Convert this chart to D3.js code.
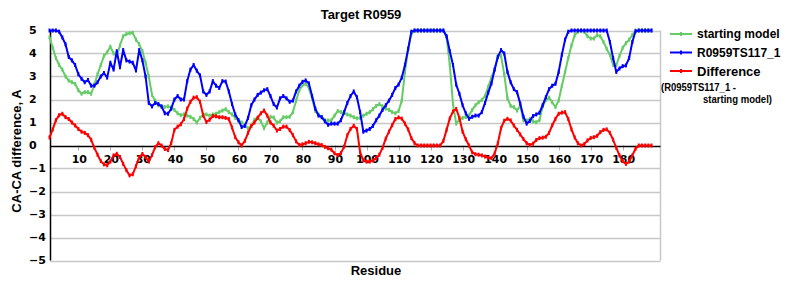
<!DOCTYPE html>
<html>
<head>
<meta charset="utf-8">
<script src="https://cdn.jsdelivr.net/npm/d3@7"></script>
<style>
  body { margin: 0; background: #fff; }
  svg { display: block; }
  text { font-family: "Liberation Sans", Arial, sans-serif; font-weight: bold; fill: #000; }
  .tick-label { font-family: "DejaVu Sans", Verdana, sans-serif; font-size: 11px; }
</style>
</head>
<body>
<div id="chart"></div>
<script>
// CA-CA difference per residue (A)
const startingModel = [
  4.7, 4.25, 3.8, 3.5, 3.3, 3.0, 2.82, 2.75, 2.68, 2.4,
  2.25, 2.32, 2.32, 2.25, 2.65, 3.1, 3.5, 3.9, 4.05, 4.3,
  4.0, 3.9, 4.35, 4.75, 4.85, 4.88, 4.9, 4.6, 4.4, 4.1,
  3.6, 3.0, 2.2, 1.95, 1.75, 1.68, 1.68, 1.7, 1.65, 1.55,
  1.4, 1.32, 1.35, 1.3, 1.25, 1.15, 1.0, 1.2, 1.35, 1.35,
  1.3, 1.35, 1.38, 1.45, 1.52, 1.58, 1.45, 1.35, 1.2, 1.09,
  1.0, 0.9, 0.74, 0.85, 1.12, 1.22, 1.05, 0.75, 1.0, 1.25,
  1.22, 1.0, 1.05, 1.23, 1.23, 1.25, 1.45, 1.95, 2.4, 2.62,
  2.68, 2.5, 2.05, 1.5, 1.35, 1.25, 1.1, 1.09, 1.1, 1.3,
  1.5, 1.45, 1.4, 1.35, 1.3, 1.23, 1.18, 1.2, 1.3, 1.38,
  1.45, 1.58, 1.72, 1.8, 1.7, 1.6, 1.55, 1.45, 1.4, 1.5,
  1.95, 3.2, 4.2, 4.85, 5, 5, 5, 5, 5, 5,
  5, 5, 5, 5, 4.7, 3.5, 1.8, 0.95, 1.12, 1.2,
  1.24, 1.3, 1.55, 1.75, 1.88, 1.98, 2.15, 2.55, 2.95, 3.3,
  3.9, 3.9, 3.1, 2.05, 1.72, 1.67, 1.52, 1.74, 1.1, 1.09,
  1.15, 1.05, 1.01, 1.1, 1.7, 1.98, 2.08, 1.88, 1.67, 1.96,
  2.6, 3.2, 3.8, 4.35, 4.8, 4.95, 5, 4.95, 4.75, 4.65,
  4.65, 4.8, 4.75, 4.5, 4.2, 3.95, 3.5, 3.5, 3.9, 4.25,
  4.45, 4.6, 4.8, 5, 5, 5, 5, 5, 5
];

const model = [
  5, 5, 5, 4.95, 4.7, 4.4, 3.85, 3.7, 3.5, 3.1,
  2.9, 2.75, 2.85, 2.6, 2.6, 2.75, 3.0, 3.15, 2.95, 3.6,
  3.3, 4.1, 3.4, 4.15, 3.7, 3.65, 3.6, 3.26, 4.15, 3.7,
  3.0, 1.85, 1.7, 1.85, 1.8, 1.7, 1.4, 1.38, 1.6, 2.0,
  2.15, 2.0, 2.0, 2.8, 3.3, 3.5, 3.25, 3.05, 2.35, 2.2,
  2.35, 2.8, 2.6, 2.5, 2.8, 2.78, 2.35, 1.8, 1.35, 1.1,
  0.8, 0.85, 1.2, 1.75, 2.0, 2.2, 2.3, 2.4, 2.45, 2.15,
  1.8, 1.65, 2.05, 2.15, 2.05, 1.9, 1.95, 2.35, 2.6, 2.77,
  2.83, 2.7, 2.15, 1.6, 1.3, 1.23, 1.05, 0.9, 0.95, 0.95,
  0.95, 1.1, 1.45, 1.85, 2.15, 2.35, 2.1, 1.45, 0.6, 0.65,
  0.72, 0.85, 1.1, 1.3, 1.55, 1.75, 1.95, 2.2, 2.5, 2.65,
  2.95, 3.5, 4.2, 4.95, 5, 5, 5, 5, 5, 5,
  5, 5, 5, 5, 4.75, 4.1, 3.5, 2.65, 2.25, 1.75,
  1.4, 1.16, 1.25, 1.3, 1.3, 1.45, 1.85, 2.3, 2.7, 3.3,
  3.85, 4.15, 4.0, 3.2, 2.75, 2.45, 2.32, 1.82, 1.25, 0.95,
  1.07, 1.28, 1.35, 1.42, 1.75, 2.1, 2.45, 2.6, 2.68, 3.2,
  3.95, 4.6, 4.95, 5, 5, 5, 5, 5, 5, 5,
  5, 5, 5, 5, 5, 4.5, 3.8, 3.2, 3.35, 3.45,
  3.48, 3.8, 4.5, 4.97, 5, 5, 5, 5, 5
];

const difference = [
  0.35, 0.7, 1.1, 1.32, 1.38, 1.23, 1.15, 1.0, 0.87, 0.72,
  0.6, 0.55, 0.45, 0.25, -0.1, -0.4, -0.68, -0.82, -0.86, -0.7,
  -0.43, -0.36, -0.5, -0.8, -1.07, -1.3, -1.25, -0.9, -0.52, -0.37,
  -0.5, -0.7, -0.42, -0.07, 0.1, 0.0, -0.15, -0.2, 0.1, 0.68,
  0.82, 0.92, 1.15, 1.6, 1.9, 2.08, 2.1, 1.9, 1.3, 1.02,
  1.12, 1.28, 1.27, 1.23, 1.23, 1.2, 1.15, 0.78, 0.36, 0.14,
  0.0, 0.2, 0.55, 0.85, 1.0, 1.2, 1.4, 1.52, 1.3, 1.0,
  0.86, 0.65, 0.72, 0.82, 0.82, 0.67, 0.45, 0.18, 0.02, 0.05,
  0.1, 0.16, 0.14, 0.1, 0.05, 0.02, -0.06, -0.12, -0.18, -0.34,
  -0.42, -0.33, -0.05, 0.45, 0.72, 0.86, 0.72, -0.3, -0.65, -0.7,
  -0.7, -0.65, -0.55, -0.4, -0.1, 0.3, 0.6, 0.88, 1.15, 1.22,
  1.17, 0.95, 0.7, 0.32, 0.1, 0, 0, 0, 0, 0,
  0, 0, 0, 0.2, 0.68, 1.18, 1.48, 1.59, 1.2, 0.6,
  0.27, 0.0, -0.3, -0.38, -0.4, -0.43, -0.48, -0.53, -0.55, -0.35,
  0.1, 0.75, 1.08, 1.16, 1.09, 0.87, 0.68, 0.48, 0.28, 0.1,
  0.02, 0.08, 0.24, 0.32, 0.34, 0.38, 0.55, 0.88, 1.16, 1.38,
  1.43, 1.45, 1.15, 0.7, 0.35, 0.1, 0.0, 0.06, 0.22, 0.33,
  0.36, 0.42, 0.58, 0.68, 0.7, 0.55, 0.25, -0.1, -0.43, -0.68,
  -0.8, -0.7, -0.43, -0.14, 0, 0, 0, 0, 0
];

const residues = d3.range(1, startingModel.length + 1);
const xTicks = [10, 20, 30, 40, 50, 60, 70, 80, 90, 100, 110, 120, 130, 140, 150, 160, 170, 180];
const yTicks = [5, 4, 3, 2, 1, 0, -1, -2, -3, -4, -5];

const w = 800;
const h = 300;

const svg = d3.select("#chart")
    .append("svg")
    .attr("width", w)
    .attr("height", h);

const x = d3.scaleLinear().domain([1.15, 191.8]).range([50, 660.5]);
const y = d3.scaleLinear().domain([-5, 5]).range([260.5, 30.5]);

// grid
svg.append("g")
    .selectAll("line")
    .data(yTicks.filter(d => d !== 0))
    .enter()
    .append("line")
    .attr("x1", 50).attr("x2", 660.5)
    .attr("y1", d => Math.round(y(d)) + 0.5)
    .attr("y2", d => Math.round(y(d)) + 0.5)
    .attr("stroke", "#c8c8c8")
    .attr("stroke-width", 1.5);

// right border
svg.append("line")
    .attr("x1", 660.5).attr("x2", 660.5)
    .attr("y1", y(5)).attr("y2", y(-5))
    .attr("stroke", "#c8c8c8")
    .attr("stroke-width", 1.5);

// x ticks hanging from the zero line
svg.append("g")
    .selectAll("line")
    .data(xTicks)
    .enter()
    .append("line")
    .attr("x1", d => Math.round(x(d)) + 0.5)
    .attr("x2", d => Math.round(x(d)) + 0.5)
    .attr("y1", y(0)).attr("y2", y(0) + 5)
    .attr("stroke", "#b0b0b0");

svg.append("g")
    .selectAll("text")
    .data(xTicks)
    .enter()
    .append("text")
    .attr("class", "tick-label")
    .attr("x", d => x(d) + 1)
    .attr("y", 163)
    .attr("text-anchor", "middle")
    .text(d => d);

// y labels (left aligned like the original)
svg.append("g")
    .selectAll("text")
    .data(yTicks)
    .enter()
    .append("text")
    .attr("class", "tick-label")
    .attr("x", 29)
    .attr("y", d => y(d))
    .attr("dy", "0.36em")
    .text(d => d < 0 ? "\u2212" + Math.abs(d) : d);

// zero line and y axis
svg.append("line")
    .attr("x1", 50).attr("x2", 660.5)
    .attr("y1", Math.round(y(0)) + 0.5).attr("y2", Math.round(y(0)) + 0.5)
    .attr("stroke", "#000")
    .attr("stroke-width", 1.5);

svg.append("line")
    .attr("x1", 50.5).attr("x2", 50.5)
    .attr("y1", y(5)).attr("y2", y(-5))
    .attr("stroke", "#000")
    .attr("stroke-width", 1.5);

const series = [
    { name: "starting model", values: startingModel, color: "#66cc66" },
    { name: "R0959TS117_1", values: model, color: "#0000ff" },
    { name: "Difference", values: difference, color: "#ff0000" }
];

const line = d3.line()
    .x((d, i) => x(residues[i]))
    .y(d => y(d));

series.forEach(s => {
    svg.append("path")
        .datum(s.values)
        .attr("fill", "none")
        .attr("stroke", s.color)
        .attr("stroke-width", 2)
        .attr("stroke-linejoin", "round")
        .attr("d", line);

    // little point markers
    svg.append("g")
        .selectAll("rect")
        .data(s.values)
        .enter()
        .append("rect")
        .attr("x", (d, i) => x(residues[i]) - 1)
        .attr("y", d => y(d) - 2)
        .attr("width", 2)
        .attr("height", 4)
        .attr("fill", s.color);
});

// titles
svg.append("text")
    .attr("x", 361).attr("y", 19)
    .attr("text-anchor", "middle")
    .style("font-size", "13px")
    .text("Target R0959");

svg.append("text")
    .attr("x", 376).attr("y", 275)
    .attr("text-anchor", "middle")
    .style("font-size", "13px")
    .text("Residue");

svg.append("text")
    .attr("transform", "translate(21,151) rotate(-90)")
    .attr("text-anchor", "middle")
    .style("font-size", "13px")
    .text("CA-CA difference, A");

// legend
const legendY = [34, 52.5, 71];
const legendSize = [12, 12, 13];
const legend = svg.append("g");

series.forEach((s, i) => {
    legend.append("line")
        .attr("x1", 670).attr("x2", 692)
        .attr("y1", legendY[i]).attr("y2", legendY[i])
        .attr("stroke", s.color)
        .attr("stroke-width", 2);
    legend.append("rect")
        .attr("x", 680).attr("y", legendY[i] - 2)
        .attr("width", 2).attr("height", 4)
        .attr("fill", s.color);
    legend.append("text")
        .attr("x", 697)
        .attr("y", legendY[i] + legendSize[i] * 0.36)
        .style("font-size", legendSize[i] + "px")
        .text(s.name);
});

legend.append("text")
    .attr("x", 661).attr("y", 91)
    .style("font-size", "11px")
    .attr("textLength", 75)
    .attr("lengthAdjust", "spacingAndGlyphs")
    .text("(R0959TS117_1 -");

legend.append("text")
    .attr("x", 703).attr("y", 103)
    .style("font-size", "11px")
    .attr("textLength", 69)
    .attr("lengthAdjust", "spacingAndGlyphs")
    .text("starting model)");
</script>
</body>
</html>
